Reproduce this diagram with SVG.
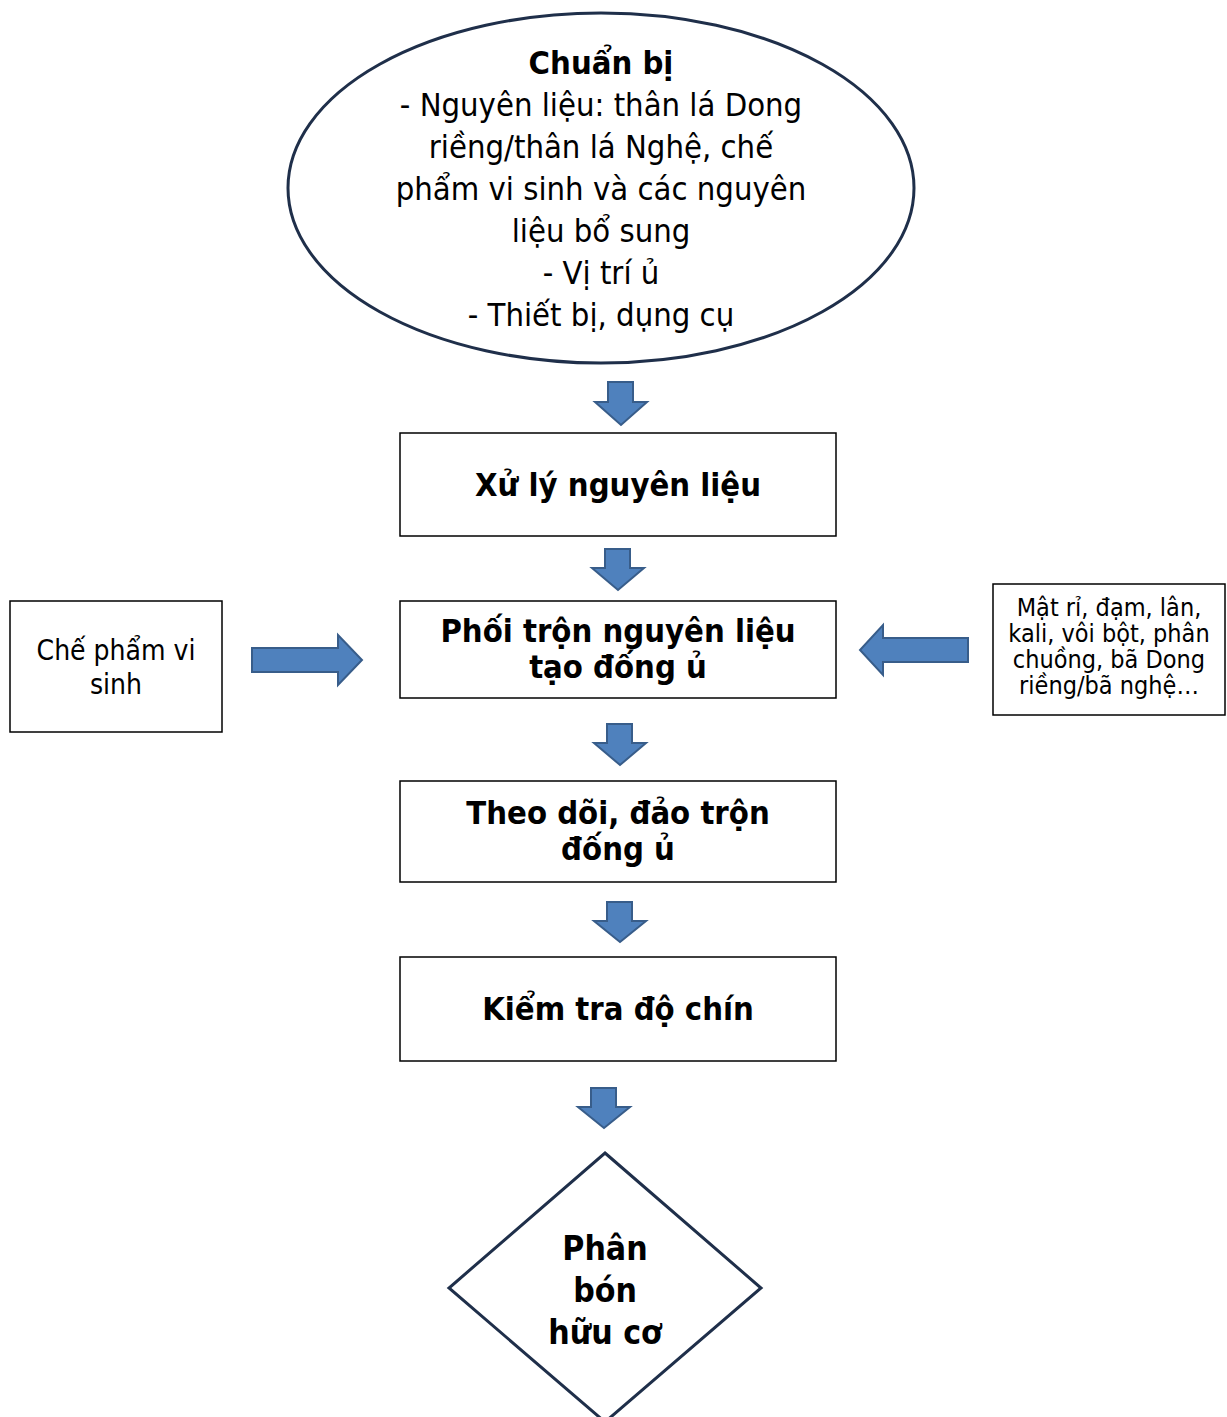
<svg xmlns="http://www.w3.org/2000/svg" width="1227" height="1417" viewBox="0 0 1227 1417">
<style>
.shape{fill:#ffffff;stroke:#1f2f4a;stroke-width:3}
.box{fill:#ffffff;stroke:#000000;stroke-width:1.5}
.t{font-family:"DejaVu Sans Condensed","DejaVu Sans",sans-serif;fill:#000;text-anchor:middle}
.n{font-size:32.5px}
.b{font-size:32.5px;font-weight:bold}
.d{font-size:33.5px;font-weight:bold}
.l{font-size:28px}
.s{font-size:25px}
.arr{fill:#4f81bd;stroke:#385d8a;stroke-width:2}
</style>
<rect width="1227" height="1417" fill="#ffffff"/>
<g id="node-chuan-bi">
<ellipse class="shape" cx="601" cy="188" rx="313" ry="175"/>
<text class="t b" x="601" y="74">Chuẩn bị</text>
<text class="t n" x="601" y="116">- Nguyên liệu: thân lá Dong</text>
<text class="t n" x="601" y="158">riềng/thân lá Nghệ, chế</text>
<text class="t n" x="601" y="200">phẩm vi sinh và các nguyên</text>
<text class="t n" x="601" y="242">liệu bổ sung</text>
<text class="t n" x="601" y="284">- Vị trí ủ</text>
<text class="t n" x="601" y="326">- Thiết bị, dụng cụ</text>
</g>
<g id="node-xu-ly">
<rect class="box" x="400" y="433" width="436" height="103"/>
<text class="t b" x="618" y="496">Xử lý nguyên liệu</text>
</g>
<g id="node-phoi-tron">
<rect class="box" x="400" y="601" width="436" height="97"/>
<text class="t b" x="618" y="642">Phối trộn nguyên liệu</text>
<text class="t b" x="618" y="678">tạo đống ủ</text>
</g>
<g id="node-che-pham">
<rect class="box" x="10" y="601" width="212" height="131"/>
<text class="t l" x="116" y="660">Chế phẩm vi</text>
<text class="t l" x="116" y="694">sinh</text>
</g>
<g id="node-bo-sung">
<rect class="box" x="993" y="584" width="232" height="131"/>
<text class="t s" x="1109" y="616">Mật rỉ, đạm, lân,</text>
<text class="t s" x="1109" y="642">kali, vôi bột, phân</text>
<text class="t s" x="1109" y="668">chuồng, bã Dong</text>
<text class="t s" x="1109" y="694">riềng/bã nghệ…</text>
</g>
<g id="node-theo-doi">
<rect class="box" x="400" y="781" width="436" height="101"/>
<text class="t b" x="618" y="824">Theo dõi, đảo trộn</text>
<text class="t b" x="618" y="860">đống ủ</text>
</g>
<g id="node-kiem-tra">
<rect class="box" x="400" y="957" width="436" height="104"/>
<text class="t b" x="618" y="1020">Kiểm tra độ chín</text>
</g>
<g id="node-phan-bon">
<polygon class="shape" points="605,1153 761,1288 605,1422 449,1288"/>
<text class="t d" x="605" y="1260">Phân</text>
<text class="t d" x="605" y="1302">bón</text>
<text class="t d" x="605" y="1344">hữu cơ</text>
</g>
<g id="connectors">
<path class="arr" d="M608,382 H633 V402 H647 L621,425 L595,402 H608 Z"/>
<path class="arr" d="M605,549 H630 V568 H644 L618,590 L592,568 H605 Z"/>
<path class="arr" d="M607,724 H632 V743 H646 L620,765 L594,743 H607 Z"/>
<path class="arr" d="M607,902 H632 V921 H646 L620,942 L594,921 H607 Z"/>
<path class="arr" d="M591,1088 H616 V1107 H630 L604,1128 L578,1107 H591 Z"/>
<path class="arr" d="M252,648 H338 V635 L362,660 L338,685 V672 H252 Z"/>
<path class="arr" d="M968,638 H883 V625 L860,650 L883,675 V662 H968 Z"/>
</g>
</svg>
